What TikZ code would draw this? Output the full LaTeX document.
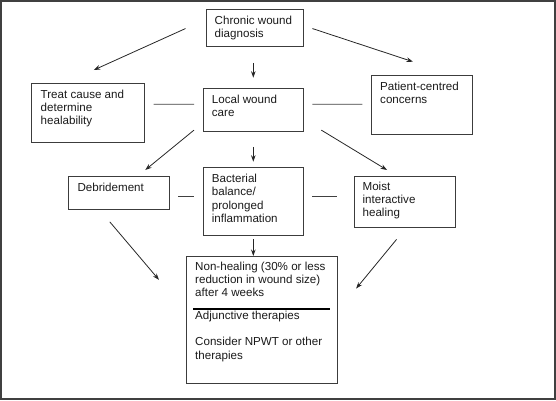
\documentclass[tikz,border=0pt]{standalone}
\usepackage{fontspec}
\setmainfont{Liberation Sans}
\usetikzlibrary{calc,arrows.meta}
\definecolor{boxline}{HTML}{3C3C3C}
\definecolor{frameline}{HTML}{404040}
\definecolor{inktext}{HTML}{1A1A1A}
\begin{document}
\begin{tikzpicture}[x=1pt,y=-1pt,
  box/.style={draw=boxline,line width=1.1pt,rectangle,inner sep=0pt,anchor=north west},
  txt/.style={anchor=north west,inner sep=0pt,align=left,text=inktext,
    font=\fontsize{11.6}{13.3}\selectfont,execute at begin node=\strut},
  arr/.style={draw=black!85,line width=0.8pt,-{Stealth[length=6.5pt,width=4.6pt]}},
  link/.style={draw=black!75,line width=0.8pt},
  frame/.style={draw=frameline,line width=2pt}]
\useasboundingbox (0,0) rectangle (556,400);
\draw[frame] (1,1) rectangle (554.5,398.8);
% boxes
\node[box,minimum width=97.5pt,minimum height=36.5pt] (chronic) at (205.5,9) {};
\node[box,minimum width=112.5pt,minimum height=58.4pt] (treat) at (31,83.3) {};
\node[box,minimum width=100.5pt,minimum height=42.7pt] (local) at (202.5,88.3) {};
\node[box,minimum width=101pt,minimum height=59pt] (patient) at (370.5,75) {};
\node[box,minimum width=100.8pt,minimum height=33.6pt] (debr) at (68,175.7) {};
\node[box,minimum width=100.5pt,minimum height=67.7pt] (bact) at (202.5,167.3) {};
\node[box,minimum width=101pt,minimum height=51pt] (moist) at (353.5,175.7) {};
\node[box,minimum width=151pt,minimum height=127pt] (nonheal) at (186,256) {};
% texts (first baseline about 15.7pt below the box top; strut height 9.31pt)
\node[txt] (tchronic) at ($(chronic.north west)+(9,6.7)$) {Chronic wound\\diagnosis};
\node[txt] (ttreat) at ($(treat.north west)+(9.5,6.4)$) {Treat cause and\\determine\\healability};
\node[txt] (tlocal) at ($(local.north west)+(9.2,6.4)$) {Local wound\\care};
\node[txt] (tpatient) at ($(patient.north west)+(9.5,6.4)$) {Patient-centred\\concerns};
\node[txt] (tdebr) at ($(debr.north west)+(9.3,6)$) {Debridement};
\node[txt] (tbact) at ($(bact.north west)+(9.2,6.7)$) {Bacterial\\balance/\\prolonged\\inflammation};
\node[txt] (tmoist) at ($(moist.north west)+(8.9,6)$) {Moist\\interactive\\healing};
\node[txt] (tnonheal) at ($(nonheal.north west)+(9,5.7)$) {Non-healing (30\% or less\\reduction in wound size)\\after 4 weeks\\[9.7pt]Adjunctive therapies\\[12.7pt]Consider NPWT or other\\therapies};
\draw[black,line width=1.5pt] ($(nonheal.north west)+(7,53)$) -- ($(nonheal.north east)+(-8,53)$);
% arrows
\draw[arr] ($(chronic.west)+(-20,0.75)$) -- ($(treat.north)+(6,-13.3)$);
\draw[arr] ($(local.north |- chronic.south)+(0,16.2)$) -- ($(local.north)+(0,-10.6)$);
\draw[arr] ($(chronic.east)+(8.3,0.75)$) -- ($(patient.north)+(-8.6,-13.3)$);
\draw[link] ($(treat.east)+(9,-8.8)$) -- ($(local.west)+(-8.5,-6)$);
\draw[link] ($(local.east)+(8.3,-6)$) -- ($(patient.west)+(-8.1,-0.8)$);
\draw[arr] ($(local.south west)+(-8.5,-2)$) -- ($(debr.north)+(26.3,-5.7)$);
\draw[arr] ($(local.south)+(0,14.7)$) -- ($(bact.north)+(0,-5.6)$);
\draw[arr] ($(local.south east)+(17.2,-2)$) -- ($(moist.north)+(-17.5,-5.7)$);
\draw[link] ($(debr.east)+(8.5,3.5)$) -- ($(bact.west)+(-8.5,-5.15)$);
\draw[link] ($(bact.east)+(8.3,-5.15)$) -- ($(moist.west)+(-16.6,-5.2)$);
\draw[arr] ($(debr.south)+(-9.2,11.4)$) -- ($(nonheal.west)+(-27,-40.2)$);
\draw[arr] ($(bact.south)+(0,3.3)$) -- (bact.south |- nonheal.north);
\draw[arr] ($(moist.south)+(-8,11.6)$) -- ($(nonheal.east)+(18,-31.5)$);
\end{tikzpicture}
\end{document}
